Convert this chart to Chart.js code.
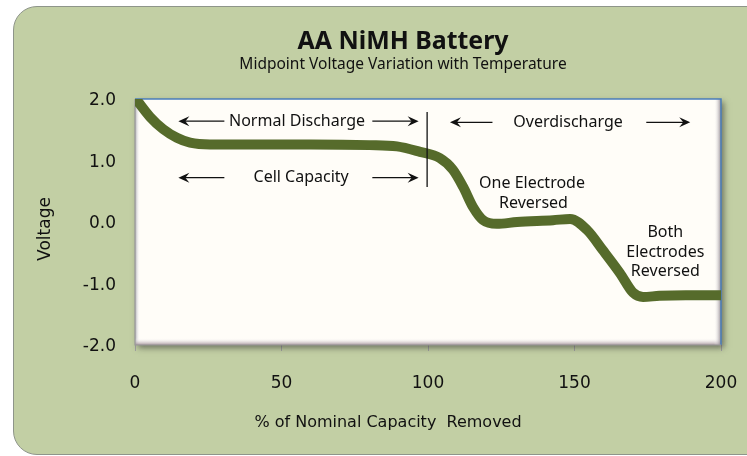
<!DOCTYPE html>
<html>
<head>
<meta charset="utf-8">
<script src="https://cdn.jsdelivr.net/npm/chart.js@4"></script>
<style>
  html, body { margin: 0; padding: 0; background: #ffffff; }
  #wrap { position: relative; width: 747px; height: 456px; overflow: hidden; }
  #panel { position: absolute; left: 13px; top: 6px; width: 820px; height: 447px;
           background: #c2cfa4; border: 1px solid #8e958a; border-radius: 24px; }
  canvas { position: absolute; left: 0; top: 0; }
</style>
</head>
<body>
<div id="wrap">
  <div id="panel"></div>
  <canvas id="c" width="747" height="456"></canvas>
</div>
<script>
// ---- data ----
const capacityRemoved = [0, 5.1, 9.6, 14.3, 18.8, 25.6, 40, 60, 80, 89.4, 97.3, 104, 108.5, 112, 115.4, 118.8, 123.5, 130.4, 142.7, 148.5, 154.3, 159.7, 165.5, 170, 173.4, 179, 188, 200];
const voltage =         [2.02, 1.71, 1.51, 1.37, 1.29, 1.26, 1.26, 1.26, 1.25, 1.23, 1.14, 1.04, 0.85, 0.57, 0.24, 0.03, -0.03, 0.0, 0.03, 0.05, -0.13, -0.46, -0.83, -1.15, -1.22, -1.2, -1.19, -1.19];
const xTicks = [0, 50, 100, 150, 200];
const yTicks = [-2, -1, 0, 1, 2];
const titleText = "AA NiMH Battery";
const subtitleText = "Midpoint Voltage Variation with Temperature";
const xTitle = "% of Nominal Capacity  Removed";
const yTitle = "Voltage";
// annotation labels: [text, x, y] in data units
const annotationLabels = [
  ["Normal Discharge", 55.3, 1.64],
  ["Cell Capacity", 56.7, 0.72],
  ["Overdischarge", 147.8, 1.62],
  ["One Electrode", 135.5, 0.62],
  ["Reversed", 136, 0.30],
  ["Both", 181, -0.17],
  ["Electrodes", 181, -0.49],
  ["Reversed", 181, -0.80]
];
// arrows: [xTail, xHead, y] in data units
const annotationArrows = [
  [30.5, 14.8, 1.64], [81, 96.8, 1.64],
  [30.5, 14.8, 0.72], [81, 96.8, 0.72],
  [122, 107.5, 1.62], [174.5, 189.5, 1.62]
];
// divider line: [x, yTop, yBottom]
const dividerLine = [99.7, 1.79, 0.57];

const FONT = "'DejaVu Sans', Verdana, sans-serif";
const FONT2 = "'Noto Sans', 'Open Sans', sans-serif";

function fitFont(ctx, text, weight, family, targetWidth) {
  ctx.font = weight + " 20px " + family;
  const w = ctx.measureText(text).width;
  ctx.font = weight + " " + (20 * targetWidth / w).toFixed(2) + "px " + family;
}

const decor = {
  id: 'decor',
  beforeDatasetsDraw(chart) {
    const {ctx, chartArea: a} = chart;
    ctx.save();
    ctx.shadowColor = 'rgba(40,40,40,0.55)';
    ctx.shadowBlur = 6;
    ctx.shadowOffsetX = 3;
    ctx.shadowOffsetY = 3;
    ctx.fillStyle = '#fffdf8';
    ctx.fillRect(a.left, a.top, a.right - a.left, a.bottom - a.top);
    ctx.restore();
    ctx.save();
    let g = ctx.createLinearGradient(a.left, 0, a.left + 5, 0);
    g.addColorStop(0, 'rgba(150,150,160,0.8)'); g.addColorStop(1, 'rgba(255,255,255,0)');
    ctx.fillStyle = g; ctx.fillRect(a.left, a.top, 5, a.bottom - a.top);
    g = ctx.createLinearGradient(0, a.bottom - 7, 0, a.bottom);
    g.addColorStop(0, 'rgba(255,255,255,0)'); g.addColorStop(1, 'rgba(150,130,140,0.85)');
    ctx.fillStyle = g; ctx.fillRect(a.left, a.bottom - 7, a.right - a.left, 7);
    g = ctx.createLinearGradient(a.right - 7, 0, a.right, 0);
    g.addColorStop(0, 'rgba(255,255,255,0)'); g.addColorStop(1, 'rgba(130,120,130,0.85)');
    ctx.fillStyle = g; ctx.fillRect(a.right - 7, a.top, 7, a.bottom - a.top);
    ctx.strokeStyle = '#4a7ebb'; ctx.lineWidth = 1.5;
    ctx.beginPath(); ctx.moveTo(a.left, a.top); ctx.lineTo(a.right, a.top); ctx.lineTo(a.right, a.bottom); ctx.stroke();
    ctx.strokeStyle = '#9a9a9a'; ctx.lineWidth = 1.2;
    ctx.beginPath(); ctx.moveTo(a.left, a.top); ctx.lineTo(a.left, a.bottom); ctx.lineTo(a.right, a.bottom); ctx.stroke();
    ctx.restore();
  },
  afterDatasetsDraw(chart) {
    const {ctx, scales: {x, y}} = chart;
    ctx.save();
    ctx.fillStyle = '#111'; ctx.strokeStyle = '#111';
    ctx.font = "16px " + FONT2;
    ctx.textAlign = 'center'; ctx.textBaseline = 'middle';
    annotationLabels.forEach(([t, dx, dy]) => ctx.fillText(t, x.getPixelForValue(dx), y.getPixelForValue(dy)));
    ctx.lineWidth = 1.3;
    annotationArrows.forEach(([x0, x1, dy]) => {
      const px0 = x.getPixelForValue(x0), px1 = x.getPixelForValue(x1), py = y.getPixelForValue(dy);
      const dir = Math.sign(px1 - px0);
      ctx.beginPath(); ctx.moveTo(px0, py); ctx.lineTo(px1 - dir * 4, py); ctx.stroke();
      ctx.beginPath(); ctx.moveTo(px1, py); ctx.lineTo(px1 - dir * 11, py - 5); ctx.lineTo(px1 - dir * 7, py); ctx.lineTo(px1 - dir * 11, py + 5); ctx.closePath(); ctx.fill();
    });
    const lx = x.getPixelForValue(dividerLine[0]);
    ctx.lineWidth = 1.3;
    ctx.beginPath(); ctx.moveTo(lx, y.getPixelForValue(dividerLine[1])); ctx.lineTo(lx, y.getPixelForValue(dividerLine[2])); ctx.stroke();
    ctx.restore();
  },
  afterDraw(chart) {
    const {ctx} = chart;
    ctx.save();
    ctx.fillStyle = '#111';
    ctx.textAlign = 'center'; ctx.textBaseline = 'middle';
    fitFont(ctx, titleText, "bold", FONT2, 211);
    ctx.fillText(titleText, 403, 42);
    ctx.font = "15.5px " + FONT2;
    ctx.fillText(subtitleText, 403, 65);
    ctx.font = "16px " + FONT;
    ctx.fillText(xTitle, 388, 423);
    ctx.translate(46, 229); ctx.rotate(-Math.PI / 2);
    ctx.font = "17px " + FONT;
    ctx.fillText(yTitle, 0, 0);
    ctx.restore();
  }
};

new Chart(document.getElementById('c'), {
  type: 'line',
  data: {
    datasets: [{
      data: capacityRemoved.map((v, i) => ({x: v, y: voltage[i]})),
      borderColor: '#566b2b',
      borderWidth: 10,
      pointRadius: 0,
      cubicInterpolationMode: 'monotone',
      borderCapStyle: 'butt',
      borderJoinStyle: 'round',
      fill: false
    }]
  },
  options: {
    responsive: false,
    animation: false,
    layout: { padding: { left: 0, top: 99, right: 26, bottom: 0 } },
    plugins: { legend: { display: false }, tooltip: { enabled: false }, title: { display: false } },
    scales: {
      x: {
        type: 'linear', min: 0, max: 200,
        afterFit(s) { s.height = 111; s.paddingLeft = 0; s.paddingRight = 0; },
        afterBuildTicks(s) { s.ticks = xTicks.map(v => ({value: v})); },
        grid: { drawOnChartArea: false, drawTicks: true, tickLength: 6, color: '#a0a0a0' },
        border: { display: false },
        ticks: { padding: 22, color: '#111', font: { family: FONT, size: 17 }, maxRotation: 0 }
      },
      y: {
        type: 'linear', min: -2, max: 2,
        afterFit(s) { s.width = 135; s.paddingTop = 0; s.paddingBottom = 0; },
        afterBuildTicks(s) { s.ticks = yTicks.map(v => ({value: v})); },
        grid: { display: false, drawTicks: false },
        border: { display: false },
        ticks: { padding: 19, labelOffset: 2, color: '#111', font: { family: FONT, size: 17 }, callback: v => v.toFixed(1) }
      }
    }
  },
  plugins: [decor]
});
</script>
</body>
</html>
